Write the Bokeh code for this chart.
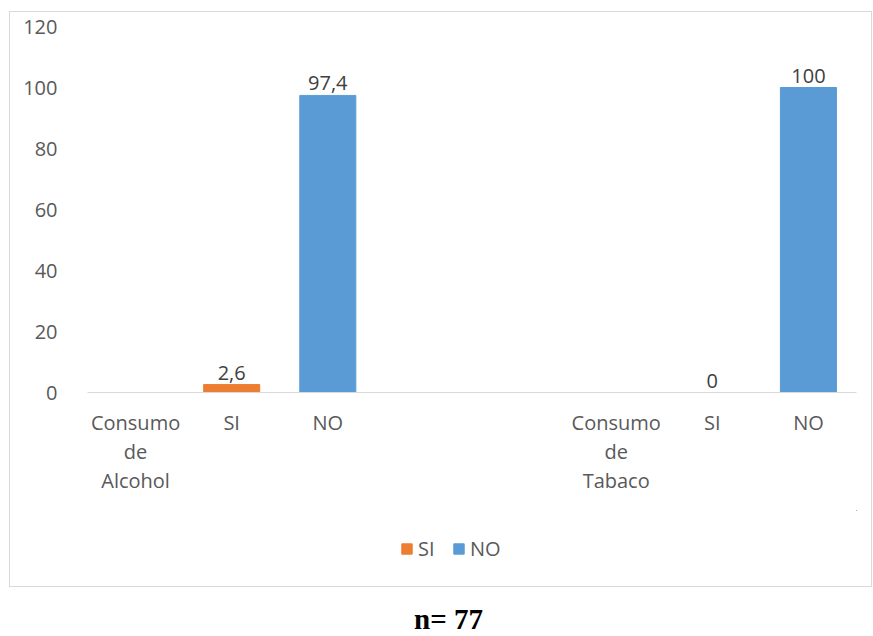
from bokeh.plotting import figure
from bokeh.models import ColumnDataSource, FixedTicker, Legend, LegendItem, Div, Range1d
from bokeh.layouts import column
from bokeh.core.properties import value
from bokeh.embed import file_html
from bokeh.resources import INLINE

# ---- data ----
tick_labels = ["Consumo\nde\nAlcohol", "SI", "NO", "", "", "Consumo\nde\nTabaco", "SI", "NO"]
si_pos = [1, 6]
si_values = [2.6, 0]
si_text = ["2,6", "0"]
no_pos = [2, 7]
no_values = [97.4, 100]
no_text = ["97,4", "100"]
y_ticks = [0, 20, 40, 60, 80, 100, 120]
series_names = ["SI", "NO"]
note = "n= 77"

ORANGE = "#ED7D31"
BLUE = "#5B9BD5"
FONT = "Open Sans"
GRAY = "#595959"

# ---- main chart ----
p = figure(width=863, height=499,
           x_range=Range1d(-0.5, len(tick_labels) - 0.5), y_range=Range1d(0, 120),
           output_backend="svg", toolbar_location=None,
           min_border_left=78, min_border_right=16, min_border_top=15, min_border_bottom=118)
p.border_fill_color = None
p.background_fill_color = None
p.outline_line_color = None
p.xgrid.grid_line_color = None
p.ygrid.grid_line_color = None

src_si = ColumnDataSource(dict(x=si_pos, top=si_values, label=si_text))
src_no = ColumnDataSource(dict(x=no_pos, top=no_values, label=no_text))

p.vbar(x="x", top="top", width=0.583, source=src_si, color=ORANGE)
p.vbar(x="x", top="top", width=0.583, source=src_no, color=BLUE)

for src in (src_si, src_no):
    p.text(x="x", y="top", text="label", source=src, text_align="center",
           text_baseline="bottom", y_offset=-5, text_font=value(FONT),
           text_font_size="20px", text_color="#404040")

p.xaxis.ticker = FixedTicker(ticks=list(range(len(tick_labels))))
p.xaxis.major_label_overrides = {i: t for i, t in enumerate(tick_labels)}
p.xaxis.major_tick_line_color = None
p.xaxis.minor_tick_line_color = None
p.xaxis.axis_line_color = "#d9d9d9"
p.xaxis.axis_line_width = 1
p.xaxis.major_label_text_font = FONT
p.xaxis.major_label_text_font_size = "20px"
p.xaxis.major_label_text_color = GRAY
p.xaxis.major_label_text_line_height = 1.08
p.xaxis.major_label_standoff = 10

p.yaxis.ticker = FixedTicker(ticks=y_ticks)
p.yaxis.major_tick_line_color = None
p.yaxis.minor_tick_line_color = None
p.yaxis.axis_line_color = None
p.yaxis.major_label_text_font = FONT
p.yaxis.major_label_text_font_size = "20px"
p.yaxis.major_label_text_color = GRAY
p.yaxis.major_label_standoff = 24

# ---- legend strip (inside the same chart box); its renderers reuse the series
# data but lie outside this strip's visible range, so only the legend shows ----
leg = figure(width=863, height=77, x_range=Range1d(-30, -20), y_range=Range1d(-30, -20),
             output_backend="svg", toolbar_location=None,
             x_axis_location=None, y_axis_location=None,
             min_border=0)
leg.border_fill_color = None
leg.background_fill_color = None
leg.outline_line_color = None
leg.xgrid.grid_line_color = None
leg.ygrid.grid_line_color = None
k_si = leg.vbar(x="x", top="top", width=0.583, source=src_si, color=ORANGE)
k_no = leg.vbar(x="x", top="top", width=0.583, source=src_no, color=BLUE)
legend = Legend(items=[LegendItem(label=series_names[0], renderers=[k_si]),
                       LegendItem(label=series_names[1], renderers=[k_no])],
                orientation="horizontal", location=(313, 25),
                label_text_font=FONT, label_text_font_size="20px",
                label_text_color=GRAY, glyph_width=13, glyph_height=13,
                spacing=14, label_standoff=5, border_line_color=None,
                background_fill_alpha=0, margin=0, padding=0)
leg.add_layout(legend)

box = column(p, leg, spacing=0)
box.margin = (11, 0, 0, 9)
box.styles = {"box-shadow": "inset 0 0 0 1px #d9d9d9"}

div = Div(text=note, width=873, height=38,
          styles={"text-align": "center", "font-family": "Liberation Serif",
                  "font-weight": "bold", "font-size": "29px", "color": "#000000",
                  "padding-left": "14px", "margin-top": "12px"})

layout = column(box, div, spacing=0)
open("out.html", "w").write(file_html(layout, INLINE))
